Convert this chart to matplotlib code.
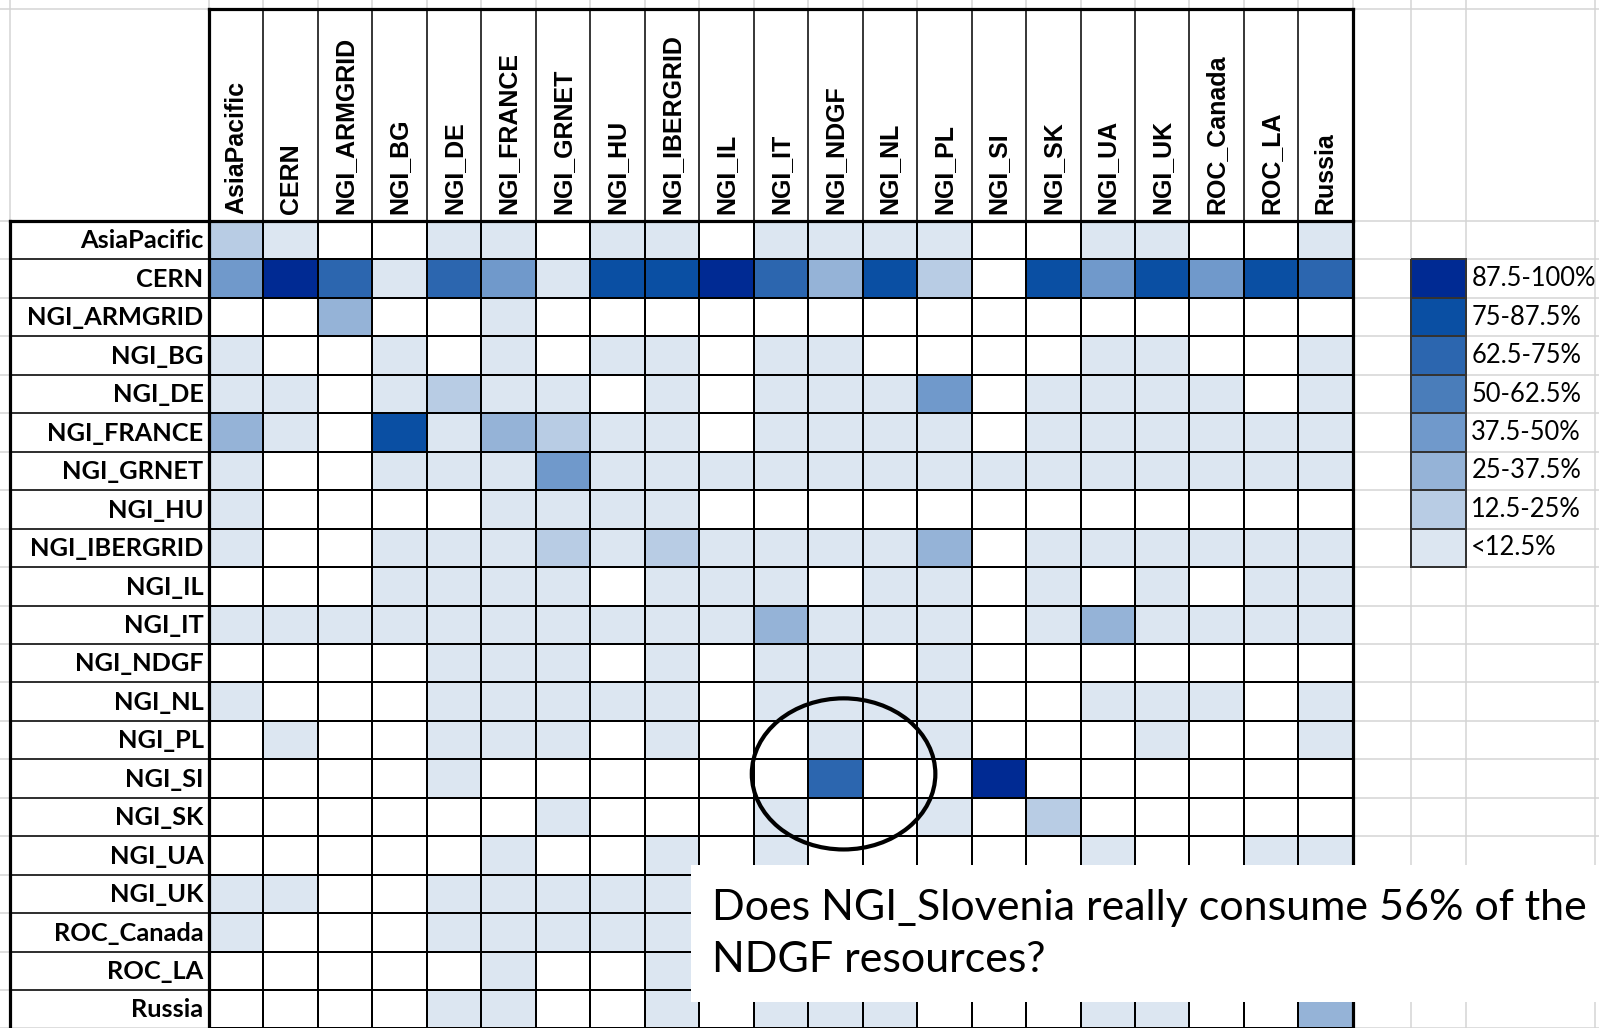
import numpy as np
import matplotlib
matplotlib.use("Agg")
import matplotlib.pyplot as plt
from matplotlib.colors import ListedColormap, BoundaryNorm
from matplotlib.patches import Ellipse, Rectangle

# sites (both consumer rows and provider columns)
sites = ["AsiaPacific", "CERN", "NGI_ARMGRID", "NGI_BG", "NGI_DE", "NGI_FRANCE",
         "NGI_GRNET", "NGI_HU", "NGI_IBERGRID", "NGI_IL", "NGI_IT", "NGI_NDGF",
         "NGI_NL", "NGI_PL", "NGI_SI", "NGI_SK", "NGI_UA", "NGI_UK",
         "ROC_Canada", "ROC_LA", "Russia"]

# legend bins, top to bottom
bin_labels = ["87.5-100%", "75-87.5%", "62.5-75%", "50-62.5%",
              "37.5-50%", "25-37.5%", "12.5-25%", "<12.5%"]
bin_levels = [8, 7, 6, 5, 4, 3, 2, 1]

# level 0 = empty cell
level_colors = ["#FFFFFF", "#DCE6F1", "#B8CCE4", "#95B3D7", "#7099CB",
                "#4A7DBA", "#2C66AF", "#0A4FA3", "#002A93"]

# share level per cell (cells under the callout box unknown -> 0)
share_level = [
    [2, 1, 0, 0, 1, 1, 0, 1, 1, 0, 1, 1, 1, 1, 0, 0, 1, 1, 0, 0, 1],  # AsiaPacific
    [4, 8, 6, 1, 6, 4, 1, 7, 7, 8, 6, 3, 7, 2, 0, 7, 4, 7, 4, 7, 6],  # CERN
    [0, 0, 3, 0, 0, 1, 0, 0, 0, 0, 0, 0, 0, 0, 0, 0, 0, 0, 0, 0, 0],  # NGI_ARMGRID
    [1, 0, 0, 1, 0, 1, 0, 1, 1, 0, 1, 1, 0, 0, 0, 0, 1, 1, 0, 0, 1],  # NGI_BG
    [1, 1, 0, 1, 2, 1, 1, 0, 1, 0, 1, 1, 1, 4, 0, 1, 1, 1, 1, 0, 1],  # NGI_DE
    [3, 1, 0, 7, 1, 3, 2, 1, 1, 0, 1, 1, 1, 1, 0, 1, 1, 1, 1, 1, 1],  # NGI_FRANCE
    [1, 0, 0, 1, 1, 1, 4, 1, 1, 1, 1, 1, 1, 1, 1, 1, 1, 1, 1, 1, 1],  # NGI_GRNET
    [1, 0, 0, 0, 0, 1, 1, 1, 1, 0, 0, 0, 0, 0, 0, 0, 0, 0, 0, 0, 0],  # NGI_HU
    [1, 0, 0, 1, 1, 1, 2, 1, 2, 1, 1, 1, 1, 3, 0, 1, 1, 1, 1, 1, 1],  # NGI_IBERGRID
    [0, 0, 0, 1, 1, 1, 1, 0, 1, 1, 1, 0, 1, 1, 0, 1, 0, 1, 0, 1, 1],  # NGI_IL
    [1, 1, 1, 1, 1, 1, 1, 1, 1, 1, 3, 1, 1, 1, 0, 1, 3, 1, 1, 1, 1],  # NGI_IT
    [0, 0, 0, 0, 1, 1, 1, 0, 1, 0, 1, 1, 0, 1, 0, 0, 0, 0, 0, 0, 0],  # NGI_NDGF
    [1, 0, 0, 0, 1, 1, 1, 1, 1, 0, 1, 1, 1, 1, 0, 0, 1, 1, 1, 0, 1],  # NGI_NL
    [0, 1, 0, 0, 1, 1, 1, 0, 1, 0, 0, 1, 0, 1, 0, 0, 0, 1, 0, 0, 1],  # NGI_PL
    [0, 0, 0, 0, 1, 0, 0, 0, 0, 0, 0, 6, 0, 0, 8, 0, 0, 0, 0, 0, 0],  # NGI_SI
    [0, 0, 0, 0, 0, 0, 1, 0, 0, 0, 1, 0, 0, 1, 0, 2, 0, 0, 0, 0, 0],  # NGI_SK
    [0, 0, 0, 0, 0, 1, 0, 0, 1, 0, 1, 0, 0, 0, 0, 0, 1, 0, 0, 1, 1],  # NGI_UA
    [1, 1, 0, 0, 1, 1, 1, 1, 1, 0, 0, 0, 0, 0, 0, 0, 0, 0, 0, 0, 0],  # NGI_UK
    [1, 0, 0, 0, 1, 1, 1, 1, 1, 0, 0, 0, 0, 0, 0, 0, 0, 0, 0, 0, 0],  # ROC_Canada
    [0, 0, 0, 0, 0, 1, 0, 0, 1, 0, 0, 0, 0, 0, 0, 0, 0, 0, 0, 0, 0],  # ROC_LA
    [0, 0, 0, 0, 1, 1, 0, 0, 1, 0, 1, 1, 1, 0, 0, 0, 1, 1, 0, 0, 3],  # Russia
]

callout = "Does NGI_Slovenia really consume 56% of the\nNDGF resources?"

# ---- layout (sheet cell size in pixels) ----
W, H = 1599, 1028
cw, rh = 54.47, 38.45          # data cell width / height
x0, y0 = 209, 221              # top-left corner of the data grid

fig = plt.figure(figsize=(W / 100, H / 100), dpi=100)
ax = fig.add_axes([0, 0, 1, 1])
ax.set_xlim(-x0 / cw, (W - x0) / cw)
ax.set_ylim((H - y0) / rh, -y0 / rh)
ax.axis("off")

n = len(sites)
head_top = (9 - y0) / rh
lab_left = (10 - x0) / cw
xmin, xmax = ax.get_xlim()
ymax, ymin = ax.get_ylim()
grey = "#D4D4D4"

# excel gridlines
for r in range(n + 1):
    ax.plot([xmin, xmax], [r, r], color=grey, lw=1.1, zorder=0)
ax.plot([xmin, xmax], [head_top, head_top], color=grey, lw=1.1, zorder=0)
for c in range(n + 1):
    ax.plot([c, c], [ymin, head_top], color=grey, lw=1.1, zorder=0)
extra_cols = [lab_left, n + 58 / cw, n + 113 / cw, n + 242 / cw]
for xc in extra_cols:
    ax.plot([xc, xc], [ymin, ymax], color=grey, lw=1.1, zorder=0)

# heat-map cells
cmap = ListedColormap(level_colors)
norm = BoundaryNorm(np.arange(-0.5, len(level_colors)), cmap.N)
ax.pcolormesh(np.arange(n + 1), np.arange(n + 1), np.array(share_level),
              cmap=cmap, norm=norm, edgecolors="black", linewidth=1.1, zorder=2)

# header / label separators
for c in range(1, n):
    ax.plot([c, c], [head_top, 0], color="black", lw=1.1, zorder=3)
for r in range(1, n):
    ax.plot([lab_left, 0], [r, r], color="black", lw=1.1, zorder=3)

# thick borders
thick = dict(color="black", lw=2.3, zorder=4, solid_capstyle="projecting")
ax.plot([0, n], [head_top, head_top], **thick)
ax.plot([0, 0], [head_top, ymax], **thick)
ax.plot([n, n], [head_top, ymax], **thick)
ax.plot([lab_left, n], [0, 0], **thick)
ax.plot([lab_left, lab_left], [0, ymax], **thick)

# labels
for j, s in enumerate(sites):
    ax.text(j + 0.5, -0.17, s, rotation=90, ha="center", va="bottom",
            fontsize=18, fontweight="bold", family="Liberation Sans", zorder=5)
for i, s in enumerate(sites):
    ax.text(-0.1, i + 0.52, s, ha="right", va="center",
            fontsize=18.3, fontweight="bold", family="Lato", zorder=5)

# legend swatches
lx = np.array([n + 58 / cw, n + 113 / cw])
ly = np.arange(1, len(bin_levels) + 2)
ax.pcolormesh(lx, ly, np.array(bin_levels).reshape(-1, 1), cmap=cmap, norm=norm,
              edgecolors="#333333", linewidth=1.1, zorder=2)
for k, lab in enumerate(bin_labels):
    ax.text(lx[1] + 0.1, k + 1.5, lab, ha="left", va="center",
            fontsize=18.4, family="Lato", zorder=5)

# the circled cell and the callout
si, nd = sites.index("NGI_SI"), sites.index("NGI_NDGF")
ax.add_patch(Ellipse((nd + 0.65, si + 0.38), 3.37, 3.93, fill=False,
                     edgecolor="black", lw=3, zorder=6))
ax.add_patch(Rectangle(((691 - x0) / cw, (865 - y0) / rh), 20, (1002 - 865) / rh,
                       facecolor="white", edgecolor="none", zorder=7))
ax.text((712 - x0) / cw, (934 - y0) / rh, callout, ha="left", va="center",
        fontsize=31, family="Lato", linespacing=1.45, zorder=8)

fig.savefig("out.png", dpi=100)
